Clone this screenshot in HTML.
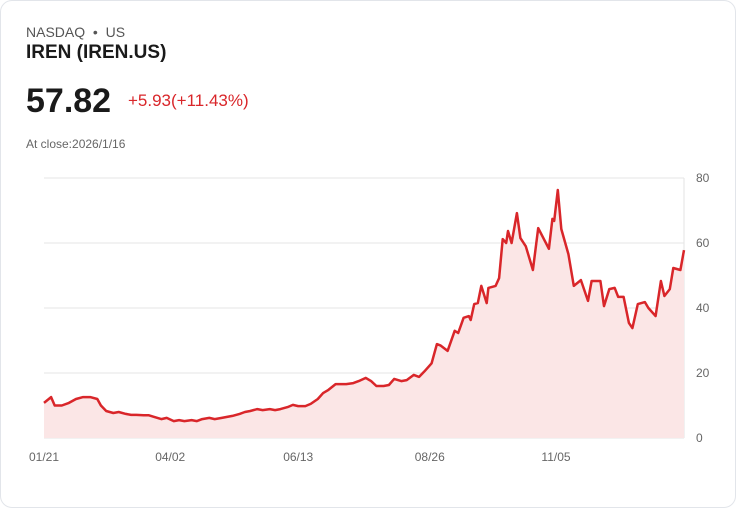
<!DOCTYPE html>
<html><head><meta charset="utf-8"><style>
body{margin:0;background:#fff;font-family:"Liberation Sans",sans-serif}
.card{position:absolute;left:0;top:0;width:734px;height:506px;border:1px solid #e2e5ea;border-radius:12px;background:#fff}
.t{position:absolute;white-space:nowrap}
</style></head><body>
<div class="card">
<div class="t" style="left:25px;top:23px;font-size:14px;color:#555">NASDAQ &nbsp;•&nbsp; US</div>
<div class="t" style="left:25px;top:41px;font-size:19px;font-weight:bold;color:#1a1a1a">IREN (IREN.US)</div>
<div class="t" style="left:25px;top:81px;font-size:34px;font-weight:bold;color:#1a1a1a">57.82</div>
<div class="t" style="left:127px;top:90px;font-size:17px;color:#d9262a">+5.93(+11.43%)</div>
<div class="t" style="left:25px;top:136px;font-size:12px;color:#666">At close:2026/1/16</div>
<svg id="chart" width="736" height="508" style="position:absolute;left:0;top:0"></svg>
</div>
<script>
const days=[0,4,6,10,14,18,22,26,30,32,35,39,42,46,49,52,56,59,62,66,69,73,76,79,83,86,89,93,96,100,103,106,110,113,116,120,123,127,130,133,137,140,143,147,150,154,157,160,164,167,170,174,177,181,184,187,191,194,197,201,204,208,211,214,218,221,223,227,231,233,236,239,240,242,244,246,249,250,254,256,258,260,261,263,266,268,271,275,278,284,286,287,289,291,295,298,302,306,308,312,313,315,318,321,323,326,329,331,334,338,340,344,347,349,352,354,358,360];
const prices=[10.8,12.6,10,10,10.8,12,12.6,12.6,12,10,8.3,7.7,8,7.4,7.1,7.1,7,7,6.5,5.8,6.2,5.2,5.5,5.2,5.5,5.2,5.8,6.2,5.8,6.2,6.5,6.8,7.4,8,8.3,8.9,8.6,8.9,8.6,8.9,9.5,10.2,9.8,9.8,10.5,12,13.8,14.8,16.6,16.6,16.6,16.9,17.5,18.5,17.5,16,16,16.3,18.2,17.5,17.8,19.4,18.8,20.5,23,28.9,28.5,26.8,33,32.3,37,37.5,36.3,41.2,41.5,46.8,41.5,46.2,46.8,49.2,61.2,60,63.7,60,69.2,61.5,59,51.7,64.6,58.2,67.4,66.8,76.3,64.3,56.6,46.8,48.6,42.2,48.3,48.3,48.3,40.6,45.8,46.2,43.4,43.4,35.4,33.8,41.2,41.8,40,37.5,48.3,43.7,45.8,52.3,51.7,57.82];
const yTicks=[0,20,40,60,80];
const xLabels=["01/21","04/02","06/13","08/26","11/05"];
const xLabelDays=[0,71,143,217,288];
const X0=43,X1=683,Y0=437,Y1=177,DMAX=360,VMAX=80;
const xs=d=>X0+(X1-X0)*d/DMAX, ys=v=>Y0-(Y0-Y1)*v/VMAX;
const svg=document.getElementById('chart'),NS='http://www.w3.org/2000/svg';
function mk(t,a){const e=document.createElementNS(NS,t);for(const k in a)e.setAttribute(k,a[k]);svg.appendChild(e);return e;}
yTicks.forEach(v=>{
 const l=mk('line',{x1:X0,x2:X1,y1:ys(v),y2:ys(v),stroke:'#e6e6e6','stroke-width':1});
 
 
 const t=mk('text',{x:695,y:ys(v)+4,'font-size':12,fill:'#666','font-family':'Liberation Sans'});
 t.textContent=v;
 
 
});
const ax=mk('line',{x1:X1,x2:X1,y1:Y1,y2:Y0,stroke:'#e3e3e3'});


xLabels.forEach((s,i)=>{
 const t=mk('text',{x:xs(xLabelDays[i]),y:460,'font-size':12,fill:'#666','text-anchor':'middle','font-family':'Liberation Sans'});
 t.textContent=s;
 
 
});
let p=days.map((d,i)=>(i?'L':'M')+xs(d).toFixed(1)+','+ys(prices[i]).toFixed(1)).join('');
const area=mk('path',{d:p+`L${xs(days[days.length-1])},${Y0}L${xs(0)},${Y0}Z`,fill:'#fbe6e6'});


const line=mk('path',{d:p,fill:'none',stroke:'#d9262a','stroke-width':2.5,'stroke-linejoin':'round'});


</script>
</body></html>
